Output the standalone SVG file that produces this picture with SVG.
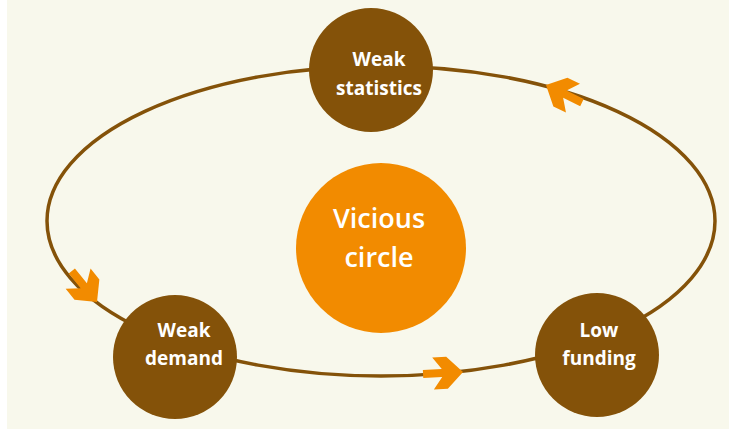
<svg xmlns="http://www.w3.org/2000/svg" width="729" height="429" viewBox="0 0 729 429">
<defs>
<style>
.node{fill:#845209}
.lbl{fill:#fff;font-family:"Open Sans","Liberation Sans",sans-serif;font-weight:bold;font-size:19px;text-anchor:middle}
.big{fill:#fff;font-family:"Open Sans","Liberation Sans",sans-serif;font-weight:600;font-size:27px;text-anchor:middle}
.arr{fill:#F28B00}
</style>
<path id="arrow" d="M0,0 L-16,-16 L-30,-16 L-21,-4 L-40,-4 L-40,4 L-21,4 L-30,16 L-16,16 Z"/>
</defs>
<rect x="0" y="0" width="729" height="429" fill="#ffffff"/>
<rect x="7" y="0" width="722" height="429" fill="#F8F8EC"/>
<g id="connectors">
<ellipse cx="381" cy="221" rx="334" ry="155" fill="none" stroke="#845209" stroke-width="3.5"/>
<use href="#arrow" class="arr" transform="translate(463,372) rotate(-3)"/>
<use href="#arrow" class="arr" transform="translate(546,85) rotate(206)"/>
<use href="#arrow" class="arr" transform="translate(97,302) rotate(51)"/>
</g>
<g id="vicious">
<circle cx="381" cy="248" r="85" fill="#F28B00"/>
<text class="big" x="379" y="228">Vicious</text>
<text class="big" x="379" y="267">circle</text>
</g>
<g id="weak-statistics">
<circle class="node" cx="371" cy="70" r="62"/>
<text class="lbl" x="379" y="66">Weak</text>
<text class="lbl" x="379" y="95">statistics</text>
</g>
<g id="weak-demand">
<circle class="node" cx="175" cy="357" r="62"/>
<text class="lbl" x="184" y="337">Weak</text>
<text class="lbl" x="184" y="365">demand</text>
</g>
<g id="low-funding">
<circle class="node" cx="597" cy="355" r="62"/>
<text class="lbl" x="599" y="337">Low</text>
<text class="lbl" x="599" y="365">funding</text>
</g>
</svg>
